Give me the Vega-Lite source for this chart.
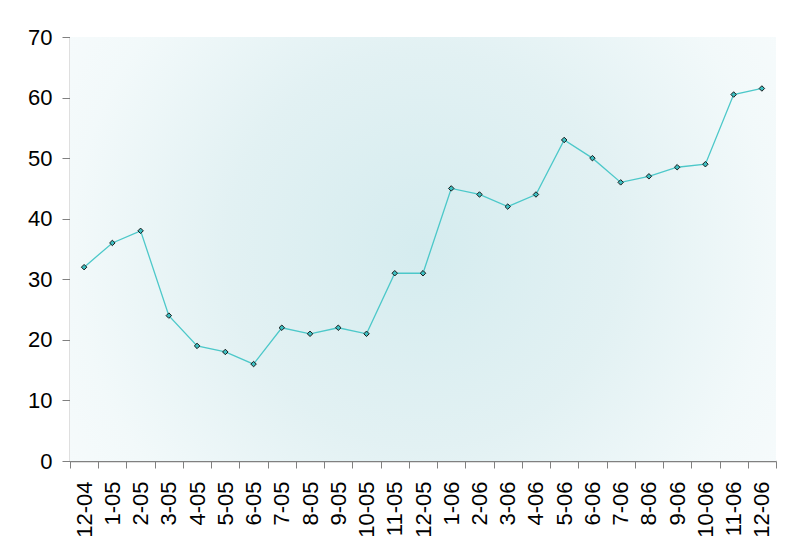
{
  "$schema": "https://vega.github.io/schema/vega-lite/v6.json",
  "width": 706,
  "height": 424,
  "autosize": {"type": "none"},
  "padding": {"left": 70, "top": 37, "right": 11, "bottom": 82},
  "background": "white",
  "config": {
    "view": {"stroke": null},
    "font": "Liberation Sans",
    "axis": {"labelFont": "Liberation Sans", "labelColor": "black", "labelFontSize": 22}
  },
  "data": {
    "values": [
      {"month": "12-04", "value": 32},
      {"month": "1-05", "value": 36},
      {"month": "2-05", "value": 38},
      {"month": "3-05", "value": 24},
      {"month": "4-05", "value": 19},
      {"month": "5-05", "value": 18},
      {"month": "6-05", "value": 16},
      {"month": "7-05", "value": 22},
      {"month": "8-05", "value": 21},
      {"month": "9-05", "value": 22},
      {"month": "10-05", "value": 21},
      {"month": "11-05", "value": 31},
      {"month": "12-05", "value": 31},
      {"month": "1-06", "value": 45},
      {"month": "2-06", "value": 44},
      {"month": "3-06", "value": 42},
      {"month": "4-06", "value": 44},
      {"month": "5-06", "value": 53},
      {"month": "6-06", "value": 50},
      {"month": "7-06", "value": 46},
      {"month": "8-06", "value": 47},
      {"month": "9-06", "value": 48.5},
      {"month": "10-06", "value": 49},
      {"month": "11-06", "value": 60.5},
      {"month": "12-06", "value": 61.5}
    ]
  },
  "encoding": {
    "x": {
      "field": "month", "type": "ordinal", "sort": null,
      "scale": {"paddingInner": 0, "paddingOuter": 0},
      "axis": {
        "title": null, "labelAngle": -90, "labelAlign": "right", "labelBaseline": "middle",
        "tickBand": "extent", "tickSize": 7, "tickColor": "#808080", "domainColor": "#808080",
        "domainWidth": 1.5, "labelPadding": 13, "grid": false
      }
    },
    "y": {
      "field": "value", "type": "quantitative",
      "scale": {"domain": [0, 70], "nice": false},
      "axis": {
        "title": null, "values": [0, 10, 20, 30, 40, 50, 60, 70], "tickSize": 8,
        "tickColor": "#808080", "domainColor": "#808080", "domainWidth": 1.5,
        "labelPadding": 10, "grid": true, "gridColor": "#cccccc", "gridDash": [4, 3]
      }
    }
  },
  "layer": [
    {
      "mark": {
        "type": "rect",
        "fill": {
          "gradient": "radial",
          "x1": 0.5, "y1": 0.5, "r1": 0,
          "x2": 0.5, "y2": 0.5, "r2": 0.62,
          "stops": [
            {"offset": 0, "color": "#d5ecef"},
            {"offset": 0.45, "color": "#e2f1f3"},
            {"offset": 0.8, "color": "#f2f9fa"},
            {"offset": 1, "color": "#f7fbfc"}
          ]
        }
      },
      "encoding": {
        "x": null,
        "y": {"datum": 0, "type": "quantitative"},
        "y2": {"datum": 70}
      }
    },
    {
      "mark": {"type": "line", "color": "#4cc8c9", "strokeWidth": 1.3},
      "encoding": {}
    },
    {
      "mark": {"type": "point", "shape": "diamond", "filled": true, "fill": "#3cbfc2", "stroke": "#1a1a1a", "strokeWidth": 1, "size": 30, "opacity": 1},
      "encoding": {}
    }
  ]
}
